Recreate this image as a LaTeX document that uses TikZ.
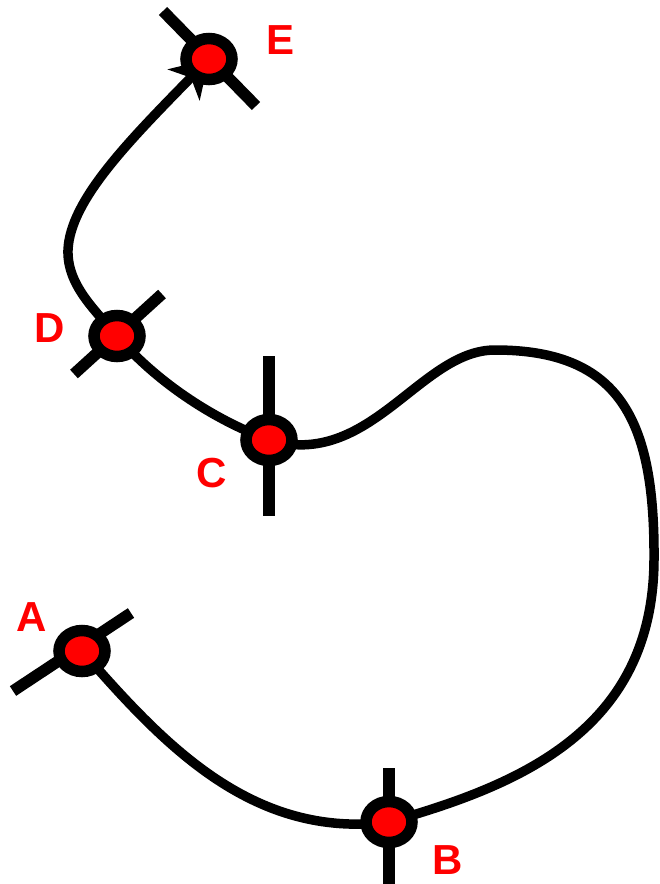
\documentclass[tikz,border=0pt]{standalone}
\usepackage{fontspec}
\setmainfont{Liberation Sans}
\usetikzlibrary{shapes.geometric,arrows.meta}
\pgfdeclarelayer{bg}
\pgfsetlayers{bg,main}
\begin{document}
\begin{tikzpicture}[x=1pt,y=-1pt,
  pt/.style={ellipse,draw=black,fill=red,line width=11.5pt,minimum width=46pt,minimum height=41pt,inner sep=0pt},
  lab/.style={text=red,font=\fontsize{42}{42}\selectfont\bfseries,inner sep=0pt},
  tick/.style={line width=11.5pt,line cap=butt},
  curve/.style={line width=9.5pt}]
\useasboundingbox (0,0) rectangle (659,884);
% points
\node[pt] (A) at (82,651) {};
\node[pt] (B) at (389,822) {};
\node[pt] (C) at (269,440) {};
\node[pt] (D) at (117,336) {};
\node[pt] (E) at (209,59) {};
% labels
\node[lab] (lA) at (32,617) {A};
\node[lab] (lB) at (448,860) {B};
\node[lab] (lC) at (212,473) {C};
\node[lab] (lD) at (50,328) {D};
\node[lab] (lE) at (281,40) {E};
% tick ends
\coordinate (a1) at (13,691); \coordinate (a2) at (131,613);
\coordinate (b1) at (389,768); \coordinate (b2) at (389,884);
\coordinate (c1) at (269,356); \coordinate (c2) at (269,516);
\coordinate (d1) at (74,374); \coordinate (d2) at (162,294);
\coordinate (e1) at (163,11); \coordinate (e2) at (256,106);
\coordinate (r1) at (654,560);
\coordinate (t1) at (495,350);
\coordinate (l1) at (68,250);
\begin{pgfonlayer}{bg}
\draw[tick] (a1) -- (a2);
\draw[tick] (b1) -- (b2);
\draw[tick] (c1) -- (c2);
\draw[tick] (d1) -- (d2);
\draw[tick] (e1) -- (e2);
\draw[curve,-{Stealth[length=36pt,width=44pt,inset=10pt]}]
  (A.center) .. controls (160,740) and (250,840) .. (B.center)
  .. controls (520,785) and (653,730) .. (r1)
  .. controls (655,420) and (620,350) .. (t1)
  .. controls (420,350) and (370,470) .. (C.center)
  .. controls (210,418) and (155,380) .. (D.center)
  .. controls (95,310) and (67,285) .. (l1)
  .. controls (70,200) and (130,140) .. (E.center);
\end{pgfonlayer}
\end{tikzpicture}
\end{document}
